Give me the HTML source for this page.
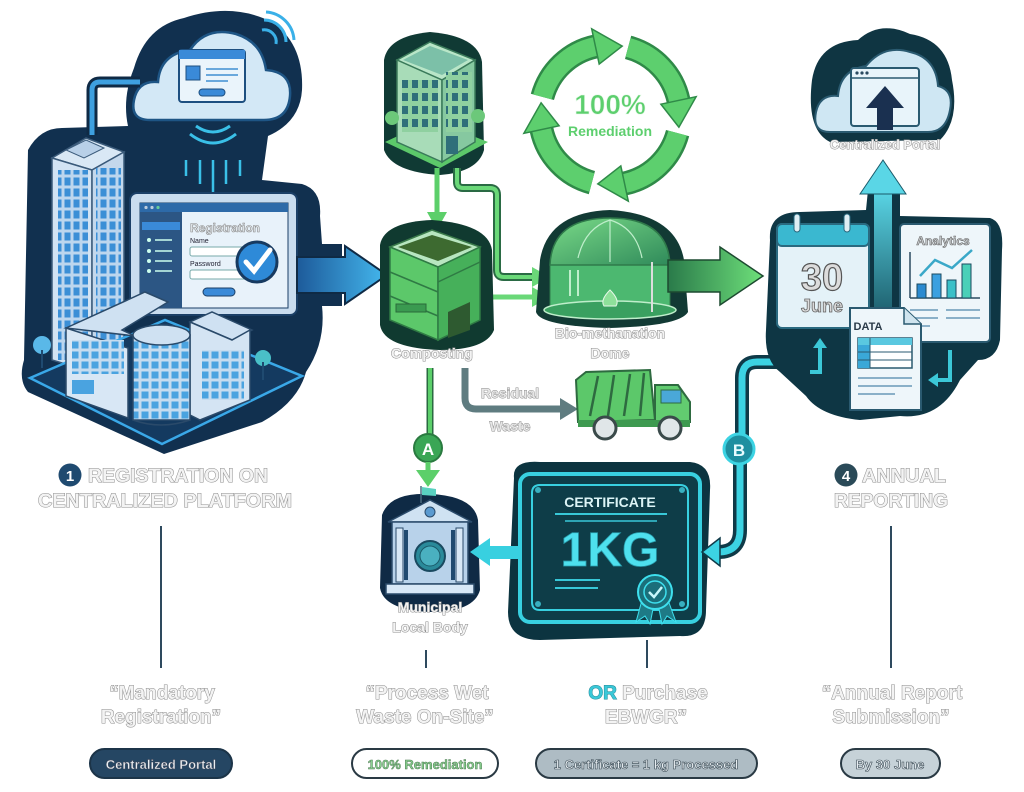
<!DOCTYPE html>
<html><head><meta charset="utf-8"><style>
html,body{margin:0;padding:0;background:#fff;}
svg{display:block;}
.lbl{font-family:"Liberation Sans",sans-serif;font-weight:bold;fill:#f3f3f3;stroke:#8c8c8c;stroke-width:1;paint-order:stroke;text-anchor:middle;}
.sm{font-family:"Liberation Sans",sans-serif;font-weight:bold;text-anchor:middle;}
</style></head><body>
<svg width="1024" height="792" viewBox="0 0 1024 792" xmlns="http://www.w3.org/2000/svg">
<defs>
  <pattern id="win" width="9" height="11" patternUnits="userSpaceOnUse">
    <rect width="9" height="11" fill="#bcd6ee"/><rect x="1.5" y="1.5" width="6" height="8" fill="#3b8fd6"/>
  </pattern>
  <pattern id="win2" width="10" height="10" patternUnits="userSpaceOnUse">
    <rect width="10" height="10" fill="#c6dcef"/><rect x="1.5" y="1.5" width="7" height="7" fill="#4aa3e0"/>
  </pattern>
  <pattern id="gwin" width="10" height="13" patternUnits="userSpaceOnUse">
    <rect width="10" height="13" fill="#8fd0a0"/><rect x="2" y="2" width="6" height="8" fill="#2f6f7a"/>
  </pattern>
  <linearGradient id="barrow" x1="0" x2="1"><stop offset="0" stop-color="#1d5a9a"/><stop offset="1" stop-color="#44b8ee"/></linearGradient>
  <linearGradient id="garrow" x1="0" x2="1"><stop offset="0" stop-color="#2a7a4a"/><stop offset="1" stop-color="#6ee07a"/></linearGradient>
  <linearGradient id="uarrow" x1="0" y1="1" x2="0" y2="0"><stop offset="0" stop-color="#16505e"/><stop offset="1" stop-color="#5ad6e6"/></linearGradient>
  <linearGradient id="dome" x1="0" y1="0" x2="1" y2="1"><stop offset="0" stop-color="#7ada88"/><stop offset="1" stop-color="#2f8a5a"/></linearGradient>
</defs>

<!-- ============ LEFT SECTION ============ -->
<path d="M28 150 Q40 128 62 128 L128 126 Q122 98 134 68 Q146 26 184 18 Q232 2 272 22 Q304 44 302 90 Q300 122 268 136 L262 180 L302 184 Q322 190 320 216 L322 244 L342 244 L342 306 L322 306 Q326 342 306 372 Q298 402 262 422 L164 454 L28 392 Q18 380 24 360 Z" fill="#11304f"/>
<!-- cloud -->
<path d="M150 120 Q130 120 134 100 Q138 80 158 82 Q160 54 190 50 Q206 26 236 34 Q262 42 266 70 Q292 72 290 96 Q288 120 264 120 Z" fill="#d3e8f6" stroke="#1e5585" stroke-width="2.5"/>
<rect x="179" y="50" width="66" height="52" rx="3" fill="#eaf4fb" stroke="#1d4f80" stroke-width="2"/>
<rect x="179" y="50" width="66" height="9" fill="#3a8ad8"/>
<rect x="186" y="66" width="14" height="14" fill="#3a8ad8" stroke="#1d4f80"/>
<line x1="206" y1="69" x2="238" y2="69" stroke="#6aa8dc" stroke-width="2"/>
<line x1="206" y1="75" x2="238" y2="75" stroke="#6aa8dc" stroke-width="2"/>
<line x1="206" y1="81" x2="228" y2="81" stroke="#6aa8dc" stroke-width="2"/>
<rect x="199" y="89" width="26" height="7" rx="3.5" fill="#3a8ad8" stroke="#1d4f80"/>
<!-- wifi arcs -->
<path d="M262 30 A12 12 0 0 1 276 44" fill="none" stroke="#3ab0e8" stroke-width="3"/>
<path d="M264 20 A22 22 0 0 1 286 42" fill="none" stroke="#3ab0e8" stroke-width="3"/>
<path d="M266 12 A30 30 0 0 1 294 40" fill="none" stroke="#3ab0e8" stroke-width="3"/>
<!-- pipe to tower -->
<path d="M140 82 L100 82 Q92 82 92 90 L92 135" fill="none" stroke="#0f2a45" stroke-width="11"/>
<path d="M140 82 L100 82 Q92 82 92 90 L92 135" fill="none" stroke="#3ea0e0" stroke-width="5"/>
<!-- signal arcs -->
<path d="M196 126 Q213 138 230 126" fill="none" stroke="#3ac0e8" stroke-width="3"/>
<path d="M190 134 Q213 152 236 134" fill="none" stroke="#3ac0e8" stroke-width="3"/>
<g stroke="#3ac0e8" stroke-width="2.5">
<line x1="186" y1="160" x2="186" y2="176"/><line x1="200" y1="160" x2="200" y2="184"/><line x1="213" y1="160" x2="213" y2="192"/><line x1="226" y1="160" x2="226" y2="184"/><line x1="240" y1="160" x2="240" y2="176"/></g>
<!-- tall tower -->
<polygon points="52,158 86,138 124,152 92,170" fill="#d9e8f5" stroke="#3a5a7a" stroke-width="1.5"/>
<polygon points="66,150 86,140 104,148 84,158" fill="#b8d0e8" stroke="#3a5a7a"/>
<polygon points="52,158 92,170 92,372 52,360" fill="#d2e3f3" stroke="#3a5a7a" stroke-width="1.5"/>
<rect x="58" y="170" width="30" height="190" fill="url(#win)"/>
<polygon points="92,170 124,152 124,352 92,372" fill="#c4d8ec" stroke="#3a5a7a" stroke-width="1.5"/>
<rect x="96" y="168" width="25" height="180" fill="url(#win)"/>
<!-- monitor -->
<rect x="130" y="193" width="167" height="122" rx="7" fill="#c9dcee" stroke="#1b3f66" stroke-width="2"/>
<rect x="140" y="203" width="148" height="105" fill="#e8f2fa" stroke="#1b3f66"/>
<rect x="140" y="203" width="148" height="9" fill="#2d6aa8"/>
<circle cx="146" cy="207.5" r="1.6" fill="#bcd"/><circle cx="152" cy="207.5" r="1.6" fill="#bcd"/><circle cx="158" cy="207.5" r="1.6" fill="#6c9"/>
<rect x="140" y="212" width="42" height="96" fill="#2c5684"/>
<rect x="142" y="222" width="38" height="8" fill="#3a8ad8"/>
<g fill="#cfe"><circle cx="149" cy="240" r="2"/><circle cx="149" cy="251" r="2"/><circle cx="149" cy="261" r="2"/><circle cx="149" cy="271" r="2"/></g>
<g stroke="#cfe" stroke-width="1.5"><line x1="155" y1="240" x2="172" y2="240"/><line x1="155" y1="251" x2="172" y2="251"/><line x1="155" y1="261" x2="172" y2="261"/><line x1="155" y1="271" x2="172" y2="271"/></g>
<text x="190" y="232" font-family="Liberation Sans" font-size="12" font-weight="bold" fill="#e8eef2" stroke="#8a8a8a" stroke-width=".6">Registration</text>
<text x="190" y="243" font-family="Liberation Sans" font-size="7" fill="#223">Name</text>
<rect x="190" y="247" width="58" height="9" rx="2" fill="#fff" stroke="#7aa"/>
<text x="190" y="266" font-family="Liberation Sans" font-size="7" fill="#223">Password</text>
<rect x="190" y="270" width="58" height="9" rx="2" fill="#fff" stroke="#7aa"/>
<rect x="203" y="288" width="32" height="8" rx="4" fill="#3a8ad8" stroke="#1b3f66"/>
<circle cx="257" cy="262" r="20" fill="#2e8ad8" stroke="#173a60" stroke-width="3"/>
<path d="M246 262 L254 271 L270 250" fill="none" stroke="#fff" stroke-width="5" stroke-linecap="round"/>
<!-- right arrow -->
<polygon points="297,257 345,257 345,246 387,275 345,304 345,293 297,293" fill="url(#barrow)" stroke="#0f2a45" stroke-width="2"/>
<!-- platform -->
<polygon points="30,378 165,320 302,376 162,444" fill="#143a60" stroke="#3aa8e8" stroke-width="2.5"/>
<!-- trees -->
<circle cx="42" cy="345" r="9" fill="#5ab8e8"/><line x1="42" y1="350" x2="42" y2="368" stroke="#1f4a70" stroke-width="2"/>
<circle cx="263" cy="358" r="8" fill="#4ac0c8"/><line x1="263" y1="362" x2="263" y2="380" stroke="#1f4a70" stroke-width="2"/>
<!-- low buildings -->
<polygon points="66,328 145,292 168,302 122,330 135,336" fill="#cfe1f2" stroke="#2a4a6a" stroke-width="1.5"/>
<polygon points="66,328 128,348 128,418 66,396" fill="#d8e7f5" stroke="#2a4a6a" stroke-width="1.5"/>
<rect x="72" y="340" width="52" height="34" fill="url(#win2)"/>
<rect x="72" y="380" width="22" height="14" fill="#4aa3e0"/>
<polygon points="190,322 212,312 252,330 232,340" fill="#cfe1f2" stroke="#2a4a6a" stroke-width="1.5"/>
<polygon points="190,322 232,340 250,330 250,400 200,420 190,415" fill="#d4e4f3" stroke="#2a4a6a" stroke-width="1.5"/>
<rect x="202" y="350" width="42" height="50" fill="url(#win2)"/>
<rect x="133" y="335" width="57" height="85" fill="url(#win2)" stroke="#2a4a6a" stroke-width="1.5"/>
<ellipse cx="161.5" cy="335" rx="28.5" ry="10" fill="#cfe1f2" stroke="#2a4a6a" stroke-width="1.5"/>
<path d="M133 420 Q161 430 190 420" fill="none" stroke="#2a4a6a" stroke-width="1.5"/>

<!-- ============ CENTER SECTION ============ -->
<!-- office blob -->
<path d="M384 60 Q388 36 430 32 Q478 36 482 62 L484 150 Q478 172 440 175 Q392 172 384 150 Z" fill="#103a34"/>
<polygon points="385,142 440,168 488,142 432,120" fill="#5cc86a"/>
<polygon points="397,60 430,42 475,60 442,80" fill="#b9e6c8" stroke="#3a7a5a" stroke-width="1.5"/>
<polygon points="403,60 430,46 468,60 442,75" fill="#7cc0a8"/>
<polygon points="397,60 442,80 442,162 397,142" fill="#a8dcb8" stroke="#3a7a5a" stroke-width="1.5"/>
<rect x="402" y="80" width="36" height="52" fill="url(#gwin)"/>
<polygon points="442,80 475,60 475,142 442,162" fill="#86c8a0" stroke="#3a7a5a" stroke-width="1.5"/>
<rect x="446" y="72" width="26" height="60" fill="url(#gwin)"/>
<rect x="446" y="136" width="12" height="18" fill="#2f6f7a"/>
<circle cx="392" cy="118" r="7" fill="#6cc87a"/><circle cx="478" cy="116" r="7" fill="#6cc87a"/>
<!-- arrows from office -->
<line x1="437" y1="168" x2="437" y2="214" stroke="#5ccf6a" stroke-width="5"/>
<polygon points="427,212 447,212 437,230" fill="#5ccf6a"/>
<path d="M457 168 L457 182 Q457 188 463 188 L490 188 Q497 188 497 195 L497 270 Q497 277 504 277 L534 277" fill="none" stroke="#2a6a44" stroke-width="8"/>
<path d="M457 168 L457 182 Q457 188 463 188 L490 188 Q497 188 497 195 L497 270 Q497 277 504 277 L534 277" fill="none" stroke="#6ad878" stroke-width="4"/>
<polygon points="532,267 550,277 532,287" fill="#6ad878"/>
<line x1="482" y1="297" x2="534" y2="297" stroke="#6ad878" stroke-width="5"/>
<polygon points="532,287 550,297 532,307" fill="#6ad878"/>
<!-- recycle ring -->
<g id="rarc">
<path d="M542.4 96.9 A70 70 0 0 1 595.4 46.5" fill="none" stroke="#2f8a48" stroke-width="24"/>
<path d="M542.4 96.9 A70 70 0 0 1 595.4 46.5" fill="none" stroke="#5dcf6e" stroke-width="19"/>
<polygon points="599.2,64.1 591.7,28.9 622.2,46.1" fill="#5dcf6e" stroke="#2f8a48" stroke-width="1.5"/>
</g>
<use href="#rarc" transform="rotate(90 610 115)"/>
<use href="#rarc" transform="rotate(180 610 115)"/>
<use href="#rarc" transform="rotate(270 610 115)"/>
<text x="610" y="114" class="sm" font-size="28" fill="#5dcf6e" stroke="#e8f8ea" stroke-width=".6">100%</text>
<text x="610" y="136" class="sm" font-size="14" fill="#5dcf6e">Remediation</text>
<!-- composting blob -->
<path d="M380 245 Q384 222 432 220 Q488 224 492 250 L494 330 Q486 350 440 350 Q384 348 380 325 Z" fill="#103a30"/>
<polygon points="390,247 432,230 480,247 438,267" fill="#b8e6c0" stroke="#3a7a4a" stroke-width="1.5"/>
<polygon points="398,247 432,235 472,247 438,261" fill="#3d6a30"/>
<polygon points="390,247 438,267 438,340 390,320" fill="#5cc86a" stroke="#2f7a44" stroke-width="1.5"/>
<line x1="390" y1="272" x2="438" y2="292" stroke="#2f7a44" stroke-width="1.5"/>
<line x1="390" y1="296" x2="438" y2="316" stroke="#2f7a44" stroke-width="1.5"/>
<rect x="396" y="304" width="30" height="8" fill="#3a9a50" stroke="#2a6a3a"/>
<polygon points="438,267 480,247 480,320 438,340" fill="#46b05a" stroke="#2f7a44" stroke-width="1.5"/>
<polygon points="448,312 470,302 470,330 448,338" fill="#2e5a30"/>
<line x1="438" y1="282" x2="480" y2="262" stroke="#2f7a44" stroke-width="1.5"/>
<!-- dome blob -->
<path d="M540 260 Q548 212 610 210 Q676 214 684 260 L688 312 Q680 326 610 328 Q540 326 536 312 Z" fill="#123a34"/>
<rect x="550" y="262" width="120" height="48" fill="#4cb870" stroke="#2f7a4a"/>
<path d="M550 265 Q552 218 610 218 Q668 218 670 265 Z" fill="url(#dome)" stroke="#2f7a4a" stroke-width="1.5"/>
<path d="M578 258 Q585 228 610 220 M642 258 Q636 228 610 220 M610 220 L610 262" fill="none" stroke="#bfeecb" stroke-width="1.2"/>
<ellipse cx="610" cy="310" rx="66" ry="9" fill="#3aa060" stroke="#bfeecb" stroke-width="1.5"/>
<path d="M610 290 Q600 300 604 306 L616 306 Q620 300 610 290 Z" fill="#8ee09a" stroke="#e8f8ea"/>
<line x1="570" y1="270" x2="570" y2="296" stroke="#bfeecb" stroke-width="2"/>
<line x1="578" y1="270" x2="578" y2="296" stroke="#bfeecb" stroke-width="2"/>
<line x1="652" y1="262" x2="652" y2="312" stroke="#ddd" stroke-width="2"/>
<!-- big green arrow -->
<polygon points="668,260 720,260 720,247 763,276 720,305 720,292 668,292" fill="url(#garrow)" stroke="#1d4a30" stroke-width="1.5"/>
<text x="432" y="358" class="lbl" font-size="14">Composting</text>
<text x="610" y="338" class="lbl" font-size="14">Bio-methanation</text>
<text x="610" y="358" class="lbl" font-size="14">Dome</text>
<!-- residual -->
<path d="M465 368 L465 398 Q465 409 476 409 L562 409" fill="none" stroke="#5f7c80" stroke-width="7"/>
<polygon points="560,398 578,409 560,420" fill="#5f7c80"/>
<text x="510" y="398" class="sm" font-size="14" fill="#e6e6e6" stroke="#8c8c8c" stroke-width=".9" paint-order="stroke">Residual</text>
<text x="510" y="431" class="sm" font-size="14" fill="#e6e6e6" stroke="#8c8c8c" stroke-width=".9" paint-order="stroke">Waste</text>
<!-- truck -->
<path d="M576 380 L586 372 L650 370 L655 420 L578 422 Z" fill="#5cc86a" stroke="#2e6a40" stroke-width="2"/>
<g stroke="#2e6a40" stroke-width="2.5"><line x1="598" y1="376" x2="590" y2="416"/><line x1="614" y1="375" x2="608" y2="416"/><line x1="630" y1="374" x2="624" y2="416"/><line x1="644" y1="373" x2="640" y2="416"/></g>
<path d="M655 385 L678 385 L690 402 L690 422 L655 422 Z" fill="#62cc70" stroke="#2e6a40" stroke-width="2"/>
<rect x="661" y="390" width="20" height="13" fill="#4aa8d8" stroke="#2e6a40"/>
<rect x="578" y="420" width="112" height="7" fill="#3e9a50"/>
<circle cx="605" cy="428" r="11" fill="#e0e6e8" stroke="#3a4a4a" stroke-width="3"/>
<circle cx="670" cy="428" r="11" fill="#e0e6e8" stroke="#3a4a4a" stroke-width="3"/>
<!-- A -->
<line x1="430" y1="368" x2="430" y2="436" stroke="#2a6a40" stroke-width="7"/>
<line x1="430" y1="368" x2="430" y2="436" stroke="#5ccf6a" stroke-width="4"/>
<circle cx="428" cy="448" r="14" fill="#3aa655" stroke="#2a7a40" stroke-width="2"/>
<text x="428" y="455" class="sm" font-size="17" fill="#fff">A</text>
<line x1="428" y1="462" x2="428" y2="474" stroke="#5ccf6a" stroke-width="5"/>
<polygon points="416,470 440,470 428,487" fill="#5ccf6a"/>
<!-- municipal -->
<path d="M382 515 Q390 492 430 494 Q474 496 478 520 L480 590 Q474 612 430 612 Q384 610 380 588 Z" fill="#0f2a45"/>
<line x1="421" y1="486" x2="421" y2="503" stroke="#4a6a80" stroke-width="1.5"/>
<polygon points="422,487 436,489 436,496 422,495" fill="#5ad0c0"/>
<polygon points="388,522 430,500 472,522" fill="#cfe2f2" stroke="#2a4a6a" stroke-width="1.5"/>
<circle cx="430" cy="512" r="5" fill="#5a9ad0" stroke="#2a4a6a"/>
<rect x="392" y="522" width="76" height="62" fill="#b8d2ea" stroke="#2a4a6a" stroke-width="1.5"/>
<g fill="#d8e8f6" stroke="#2a4a6a"><rect x="396" y="528" width="7" height="54"/><rect x="456" y="528" width="7" height="54"/></g>
<g fill="#1f4a70"><rect x="404" y="530" width="4" height="50"/><rect x="451" y="530" width="4" height="50"/></g>
<circle cx="430" cy="556" r="15" fill="#2a8a9a" stroke="#1a4a60" stroke-width="2"/>
<circle cx="430" cy="556" r="10" fill="#4ab0c0" stroke="#1a5a6a"/>
<rect x="386" y="584" width="88" height="10" fill="#d8e8f6" stroke="#2a4a6a" stroke-width="1.5"/>
<text x="430" y="612" class="lbl" font-size="14">Municipal</text>
<text x="430" y="632" class="lbl" font-size="14">Local Body</text>
<line x1="426" y1="650" x2="426" y2="668" stroke="#2e4a5e" stroke-width="2"/>

<!-- certificate -->
<path d="M514 478 Q512 460 540 462 L690 462 Q712 464 710 490 L706 610 Q706 638 680 636 L540 640 Q508 640 508 612 Z" fill="#0c3440"/>
<rect x="520" y="474" width="180" height="148" rx="10" fill="#0e3d48" stroke="#38d0e0" stroke-width="4"/>
<path d="M540 485 L680 485 Q688 485 688 493 L688 604 Q688 610 680 610 L540 610 Q532 610 532 602 L532 493 Q532 485 540 485 Z" fill="none" stroke="#38d0e0" stroke-width="2"/>
<g fill="#38b0c0"><circle cx="538" cy="490" r="3"/><circle cx="682" cy="490" r="3"/><circle cx="538" cy="604" r="3"/><circle cx="682" cy="604" r="3"/></g>
<text x="610" y="507" class="sm" font-size="14" fill="#dcf4f6">CERTIFICATE</text>
<line x1="555" y1="514" x2="667" y2="514" stroke="#38c8d8" stroke-width="2"/>
<line x1="565" y1="521" x2="657" y2="521" stroke="#38c8d8" stroke-width="1.5"/>
<text x="610" y="566" class="sm" font-size="48" fill="#4ee0ee" stroke="#2aa0b0" stroke-width=".8">1KG</text>
<line x1="555" y1="580" x2="600" y2="580" stroke="#38c8d8" stroke-width="2"/>
<line x1="555" y1="588" x2="598" y2="588" stroke="#38c8d8" stroke-width="2"/>
<polygon points="642,600 636,622 645,616 650,624 654,604" fill="#1e7a86" stroke="#3ee0ee"/>
<polygon points="658,604 662,624 667,616 676,622 668,600" fill="#1e7a86" stroke="#3ee0ee"/>
<circle cx="655" cy="592" r="17" fill="#1b6f7a" stroke="#3ee0ee" stroke-width="2"/>
<circle cx="655" cy="592" r="11" fill="none" stroke="#3ee0ee" stroke-width="1.5"/>
<path d="M649 592 L654 597 L662 587" fill="none" stroke="#c8f6fa" stroke-width="2.5"/>
<!-- cert -> municipal -->
<rect x="484" y="546" width="36" height="13" fill="#38d0e0"/>
<polygon points="470,552 490,538 490,566" fill="#38d0e0"/>
<line x1="647" y1="640" x2="647" y2="668" stroke="#2e4a5e" stroke-width="2"/>
<!-- B pipe -->
<path d="M785 362 L757 362 Q742 362 742 378 L742 436 M740 462 L740 530 Q740 552 718 552 L714 552" fill="none" stroke="#0f3a48" stroke-width="14"/>
<path d="M785 362 L757 362 Q742 362 742 378 L742 436 M740 462 L740 530 Q740 552 718 552 L714 552" fill="none" stroke="#3cd3e3" stroke-width="7"/>
<polygon points="702,552 720,538 720,566" fill="#3cd3e3" stroke="#0f3a48" stroke-width="1.5"/>
<circle cx="739" cy="449" r="15" fill="#1e8fa0" stroke="#3cd3e3" stroke-width="3"/>
<text x="739" y="456" class="sm" font-size="17" fill="#e8fcfe">B</text>

<!-- ============ RIGHT SECTION ============ -->
<path d="M812 80 Q818 42 858 40 Q880 20 910 34 Q948 40 952 80 Q960 120 940 140 L830 142 Q806 130 812 80 Z" fill="#0f3542"/>
<path d="M830 132 Q812 132 816 112 Q820 94 838 96 Q840 70 866 66 Q884 44 910 52 Q936 58 938 86 Q954 90 950 110 Q946 132 928 132 Z" fill="#cfe7f3" stroke="#2a5a70" stroke-width="2"/>
<rect x="851" y="68" width="68" height="58" rx="3" fill="#e8f4fa" stroke="#2a5a70" stroke-width="2"/>
<line x1="851" y1="78" x2="919" y2="78" stroke="#2a5a70" stroke-width="1.5"/>
<g fill="#2a4a60"><circle cx="857" cy="73" r="1.6"/><circle cx="862" cy="73" r="1.6"/><circle cx="867" cy="73" r="1.6"/></g>
<polygon points="877,130 877,108 866,108 885,86 904,108 893,108 893,130" fill="#1a3050"/>
<text x="885" y="149" class="lbl" font-size="13">Centralized Portal</text>
<!-- right blob -->
<path d="M770 240 Q768 212 800 212 L866 210 L868 190 Q880 158 900 190 L900 216 L990 218 Q1004 222 1002 250 L1000 340 Q996 360 978 360 L960 380 Q940 420 900 416 L860 420 Q820 416 806 396 L780 372 Q764 360 766 330 Z" fill="#0e3644"/>
<!-- up arrow -->
<rect x="874" y="190" width="18" height="140" fill="url(#uarrow)"/>
<polygon points="860,194 883,160 906,194" fill="#5ad6e6" stroke="#1a5a6a"/>
<!-- calendar -->
<rect x="777" y="224" width="92" height="104" rx="5" fill="#e4f2f8" stroke="#2a6a80" stroke-width="2"/>
<rect x="777" y="224" width="92" height="22" rx="5" fill="#3ab8d0" stroke="#2a6a80" stroke-width="2"/>
<rect x="794" y="214" width="6" height="18" rx="3" fill="#dfeef4" stroke="#2a6a80"/>
<rect x="844" y="214" width="6" height="18" rx="3" fill="#dfeef4" stroke="#2a6a80"/>
<text x="822" y="290" class="sm" font-size="38" fill="#dcdcdc" stroke="#555" stroke-width="1.2">30</text>
<text x="822" y="312" class="sm" font-size="18" fill="#dcdcdc" stroke="#666" stroke-width=".8">June</text>
<!-- analytics -->
<rect x="900" y="224" width="90" height="118" rx="4" fill="#eef6fa" stroke="#2a5a70" stroke-width="2"/>
<text x="943" y="245" class="sm" font-size="12" fill="#d0d4d6" stroke="#666" stroke-width=".6">Analytics</text>
<line x1="910" y1="252" x2="910" y2="298" stroke="#2a4a60" stroke-width="1.5"/>
<line x1="910" y1="298" x2="980" y2="298" stroke="#2a4a60" stroke-width="1.5"/>
<rect x="917" y="284" width="9" height="14" fill="#2a8ad0" stroke="#1a4a60"/>
<rect x="932" y="274" width="9" height="24" fill="#3aa0e0" stroke="#1a4a60"/>
<rect x="947" y="280" width="9" height="18" fill="#3ac0c8" stroke="#1a4a60"/>
<rect x="962" y="264" width="9" height="34" fill="#4ad0b8" stroke="#1a4a60"/>
<polyline points="920,276 935,260 952,268 972,250" fill="none" stroke="#3aa8c8" stroke-width="2.5"/>
<g stroke="#8ab0c8" stroke-width="2"><line x1="910" y1="310" x2="938" y2="310"/><line x1="946" y1="310" x2="980" y2="310"/><line x1="910" y1="318" x2="938" y2="318"/><line x1="946" y1="318" x2="980" y2="318"/><line x1="910" y1="326" x2="930" y2="326"/></g>
<!-- small arrows -->
<path d="M810 372 L820 372 L820 345" fill="none" stroke="#3cc8d8" stroke-width="4"/>
<polygon points="813,348 820,338 827,348" fill="#3cc8d8"/>
<path d="M950 350 L950 380 L936 380" fill="none" stroke="#3cc8d8" stroke-width="4"/>
<polygon points="938,373 928,380 938,387" fill="#3cc8d8"/>
<!-- DATA doc -->
<path d="M850 308 L904 308 L921 324 L921 410 L850 410 Z" fill="#eef6fa" stroke="#2a5a70" stroke-width="2"/>
<path d="M904 308 L904 324 L921 324" fill="#cfe4ee" stroke="#2a5a70" stroke-width="1.5"/>
<text x="868" y="330" class="sm" font-size="11" fill="#2a3a48">DATA</text>
<rect x="858" y="338" width="54" height="30" fill="#fff" stroke="#2a5a70" stroke-width="1.5"/>
<rect x="858" y="338" width="54" height="7" fill="#5ac8e0"/>
<rect x="858" y="345" width="12" height="23" fill="#3aa8d8"/>
<g stroke="#2a5a70"><line x1="870" y1="338" x2="870" y2="368"/><line x1="858" y1="352" x2="912" y2="352"/><line x1="858" y1="360" x2="912" y2="360"/></g>
<g stroke="#8ab0c8" stroke-width="2"><line x1="858" y1="378" x2="912" y2="378"/><line x1="858" y1="386" x2="912" y2="386"/><line x1="858" y1="394" x2="895" y2="394"/></g>

<!-- ============ LABELS ============ -->
<circle cx="70" cy="475" r="11.5" fill="#1f4a70"/>
<text x="70" y="481" class="sm" font-size="15" fill="#fff">1</text>
<text x="178" y="482" class="lbl" font-size="19" textLength="180" lengthAdjust="spacingAndGlyphs">REGISTRATION ON</text>
<text x="165" y="507" class="lbl" font-size="19" textLength="254" lengthAdjust="spacingAndGlyphs">CENTRALIZED PLATFORM</text>
<line x1="161" y1="526" x2="161" y2="668" stroke="#2e4a5e" stroke-width="2"/>
<text x="162" y="699" class="lbl" font-size="19">“Mandatory</text>
<text x="161" y="723" class="lbl" font-size="19">Registration”</text>
<rect x="90" y="749" width="142" height="29" rx="14.5" fill="#254663" stroke="#1c3448" stroke-width="2"/>
<text x="161" y="769" class="sm" font-size="13" fill="#e8eef2" stroke="#445" stroke-width=".4">Centralized Portal</text>

<text x="427" y="699" class="lbl" font-size="19">“Process Wet</text>
<text x="425" y="723" class="lbl" font-size="19">Waste On-Site”</text>
<rect x="352" y="749" width="146" height="29" rx="14.5" fill="#fff" stroke="#2a3a44" stroke-width="2"/>
<text x="425" y="769" class="sm" font-size="13" fill="#8ad090" stroke="#4a7a50" stroke-width=".5">100% Remediation</text>

<text x="648" y="699" class="lbl" font-size="19"><tspan fill="#3ac8d8" stroke="#2a8a98">OR</tspan> Purchase</text>
<text x="646" y="723" class="lbl" font-size="19">EBWGR”</text>
<rect x="536" y="749" width="221" height="29" rx="14.5" fill="#aebcc4" stroke="#2a3a44" stroke-width="2"/>
<text x="646" y="769" class="sm" font-size="13" fill="#e8eef2" stroke="#3a4a54" stroke-width=".6">1 Certificate = 1 kg Processed</text>

<circle cx="846" cy="475" r="11.5" fill="#2a4a58"/>
<text x="846" y="481" class="sm" font-size="15" fill="#fff">4</text>
<text x="904" y="482" class="lbl" font-size="19" textLength="84" lengthAdjust="spacingAndGlyphs">ANNUAL</text>
<text x="891" y="507" class="lbl" font-size="19" textLength="114" lengthAdjust="spacingAndGlyphs">REPORTING</text>
<line x1="891" y1="526" x2="891" y2="668" stroke="#2e4a5e" stroke-width="2"/>
<text x="892" y="699" class="lbl" font-size="19">“Annual Report</text>
<text x="891" y="723" class="lbl" font-size="19">Submission”</text>
<rect x="841" y="749" width="99" height="29" rx="14.5" fill="#c6d2d8" stroke="#2a3a44" stroke-width="2"/>
<text x="890" y="769" class="sm" font-size="13" fill="#e8eef2" stroke="#3a4a54" stroke-width=".6">By 30 June</text>
</svg>
</body></html>
